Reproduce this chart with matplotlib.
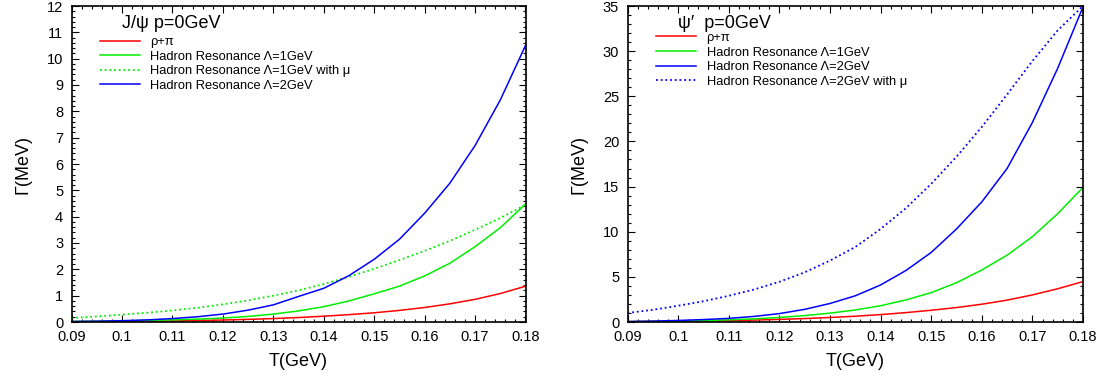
import numpy as np
import matplotlib.pyplot as plt
from matplotlib.ticker import AutoMinorLocator, FuncFormatter

plt.rcParams['font.family'] = ['Liberation Sans', 'DejaVu Sans']

# temperature grid (GeV)
T = [0.09, 0.095, 0.1, 0.105, 0.11, 0.115, 0.12, 0.125, 0.13, 0.135,
     0.14, 0.145, 0.15, 0.155, 0.16, 0.165, 0.17, 0.175, 0.18]

# J/psi widths (MeV)
jpsi_rhopi = [0.01, 0.015, 0.02, 0.03, 0.04, 0.055, 0.075, 0.1, 0.13, 0.17,
              0.22, 0.28, 0.35, 0.44, 0.55, 0.69, 0.86, 1.08, 1.36]
jpsi_hr1 = [0.02, 0.03, 0.04, 0.06, 0.08, 0.11, 0.15, 0.21, 0.3, 0.42,
            0.58, 0.8, 1.07, 1.36, 1.75, 2.23, 2.86, 3.58, 4.48]
jpsi_hr1_mu = [0.15, 0.21, 0.28, 0.35, 0.44, 0.54, 0.67, 0.82, 1.0, 1.2,
               1.44, 1.72, 2.02, 2.35, 2.7, 3.08, 3.5, 3.95, 4.45]
jpsi_hr2 = [0.02, 0.03, 0.05, 0.08, 0.13, 0.2, 0.3, 0.45, 0.65, 0.97,
            1.28, 1.76, 2.38, 3.14, 4.13, 5.27, 6.7, 8.43, 10.5]

# psi' widths (MeV)
psip_rhopi = [0.04, 0.06, 0.08, 0.11, 0.15, 0.21, 0.29, 0.38, 0.5, 0.64,
              0.82, 1.04, 1.3, 1.6, 1.97, 2.42, 3.0, 3.68, 4.48]
psip_hr1 = [0.04, 0.06, 0.1, 0.16, 0.24, 0.35, 0.5, 0.71, 0.98, 1.33,
            1.8, 2.44, 3.25, 4.35, 5.76, 7.4, 9.45, 12.0, 14.9]
psip_hr2 = [0.05, 0.1, 0.17, 0.27, 0.4, 0.62, 0.93, 1.4, 2.05, 2.9,
            4.1, 5.7, 7.7, 10.3, 13.3, 17.0, 22.1, 28.1, 34.9]
psip_hr2_mu = [1.0, 1.35, 1.8, 2.3, 2.9, 3.6, 4.45, 5.5, 6.8, 8.3,
               10.3, 12.6, 15.3, 18.3, 21.6, 25.2, 28.9, 32.3, 35.0]

dot = (0, (1, 1.6))
red, green, blue = '#ff0000', '#00ee00', '#0000ff'

fig = plt.figure(figsize=(11.07, 3.76), dpi=100)
ax1 = fig.add_axes([71.5/1107, 54/376, 454/1107, 316/376])
ax2 = fig.add_axes([627.5/1107, 54/376, 455.5/1107, 316/376])

ax1.plot(T, jpsi_rhopi, color=red, lw=1.1, label='ρ+π')
ax1.plot(T, jpsi_hr1, color=green, lw=1.1, label='Hadron Resonance Λ=1GeV')
ax1.plot(T, jpsi_hr1_mu, color=green, lw=1.3, ls=dot, label='Hadron Resonance Λ=1GeV with μ')
ax1.plot(T, jpsi_hr2, color=blue, lw=1.1, label='Hadron Resonance Λ=2GeV')
ax1.set_ylim(0, 12)
ax1.set_yticks(range(0, 13))

ax2.plot(T, psip_rhopi, color=red, lw=1.1, label='ρ+π')
ax2.plot(T, psip_hr1, color=green, lw=1.1, label='Hadron Resonance Λ=1GeV')
ax2.plot(T, psip_hr2, color=blue, lw=1.1, label='Hadron Resonance Λ=2GeV')
ax2.plot(T, psip_hr2_mu, color=blue, lw=1.3, ls=dot, label='Hadron Resonance Λ=2GeV with μ')
ax2.set_ylim(0, 35)
ax2.set_yticks(range(0, 36, 5))

ax1.text(0.111, 0.946, 'J/ψ p=0GeV', transform=ax1.transAxes, fontsize=13, va='center')
ax2.text(0.111, 0.946, 'ψ′  p=0GeV', transform=ax2.transAxes, fontsize=13, va='center')

for ax, ytop in ((ax1, 0.905), (ax2, 0.918)):
    ax.set_xlim(0.09, 0.18)
    ax.set_xticks(np.arange(0.09, 0.1801, 0.01))
    ax.xaxis.set_major_formatter(FuncFormatter(lambda v, p: '%g' % round(v, 3)))
    ax.xaxis.set_minor_locator(AutoMinorLocator(5))
    ax.yaxis.set_minor_locator(AutoMinorLocator(5))
    ax.tick_params(which='both', direction='in', top=True, right=True, labelsize=10.5)
    ax.tick_params(which='major', length=5, width=0.8)
    ax.tick_params(which='minor', length=2.5, width=0.8)
    ax.tick_params(axis='x', pad=6)
    ax.tick_params(axis='y', pad=6)
    for s in ax.spines.values():
        s.set_linewidth(1.2)
    ax.set_xlabel('T(GeV)', fontsize=13, labelpad=6)
    ax.set_ylabel('Γ(MeV)', fontsize=13, labelpad=11)
    ax.legend(loc='upper left', bbox_to_anchor=(0.063, ytop), frameon=False,
              fontsize=9.3, handlelength=3.1, handletextpad=0.8,
              labelspacing=0.2, borderpad=0, borderaxespad=0)

fig.savefig('out.png', dpi=100)
